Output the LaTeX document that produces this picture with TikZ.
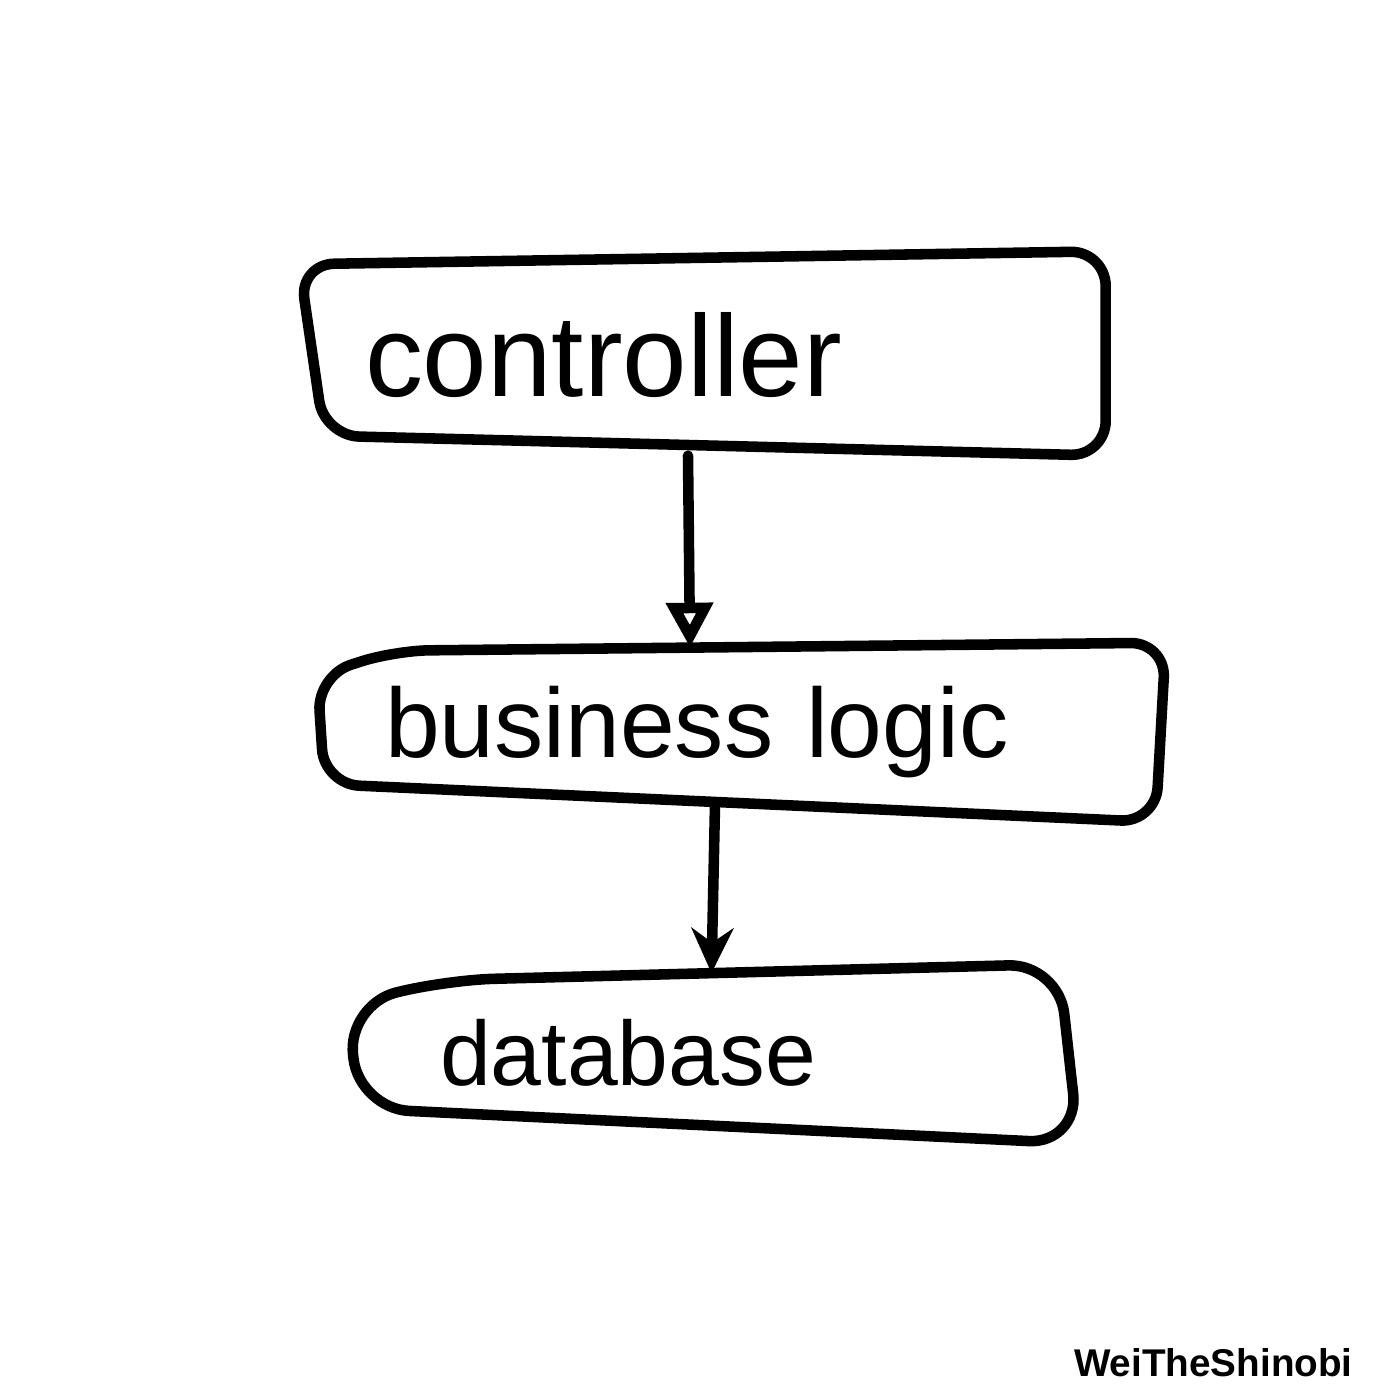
\documentclass[tikz,border=0pt]{standalone}
\usepackage{fontspec}
\setmainfont{Liberation Sans}
\usepackage{tikz}
\usetikzlibrary{arrows.meta}
\usetikzlibrary{positioning}

\begin{document}
\begin{tikzpicture}[
    layer/.style={inner xsep=#1, inner ysep=0pt, align=left, font=\fontsize{28}{34}\selectfont},
    outline/.style={line width=3pt, black, rounded corners=#1, line join=round},
    flow/.style={line width=3pt, black, line cap=round}
]

\fill[white] (0,0) rectangle (14,14);

% the three layers
\node[layer=0.7cm, minimum height=2.0cm, text width=6.7cm, font=\fontsize{33}{38}\selectfont] (controller) at (7.0,10.45) {controller};
\node[layer=0.7cm, minimum height=1.82cm, text width=7.1cm] (logic) [below=1.85cm of controller, xshift=4mm] {business logic};
\node[layer=0.95cm, minimum height=1.84cm, text width=5.43cm, font=\fontsize{26}{31}\selectfont] (database) [below=1.36cm of logic, xshift=-2.85mm] {database};

% hand drawn outlines
\draw[outline=0.35cm] ([shift={(0.05,-0.1)}]controller.north west) -- ([shift={(0,0.03)}]controller.north east)
    -- ([shift={(0,0)}]controller.south east) -- ([shift={(0.3,0.2)}]controller.south west) -- cycle;
\draw[outline=0.35cm] ([shift={(0.03,-0.35)}]logic.north west) -- ([shift={(0.8,-0.1)}]logic.north west)
    -- ([shift={(0,-0.02)}]logic.north east) -- ([shift={(-0.1,0.02)}]logic.south east)
    -- ([shift={(0.1,0.4)}]logic.south west) -- cycle;
\draw[outline=0.5cm] ([shift={(0.03,-0.45)}]database.north west) -- ([shift={(1.0,-0.2)}]database.north west)
    -- ([shift={(-0.2,-0.04)}]database.north east) -- ([shift={(0,0.02)}]database.south east)
    -- ([shift={(0.15,0.37)}]database.south west) -- cycle;

% connectors
\draw[flow, -{Triangle[open, length=0.45cm, width=0.45cm, line width=3pt]}] ([xshift=-1.2mm]controller.south) -- ([xshift=-5mm, yshift=-0.07cm]logic.north);
\draw[flow, -{Stealth[length=0.45cm, width=0.42cm]}] ([xshift=-2.5mm, yshift=2mm]logic.south) -- ([yshift=-0.13cm]database.north);

% signature
\node[anchor=east, font=\fontsize{11}{13}\selectfont\bfseries] (sign) at (13.65,0.37) {WeiTheShinobi};

\end{tikzpicture}
\end{document}
